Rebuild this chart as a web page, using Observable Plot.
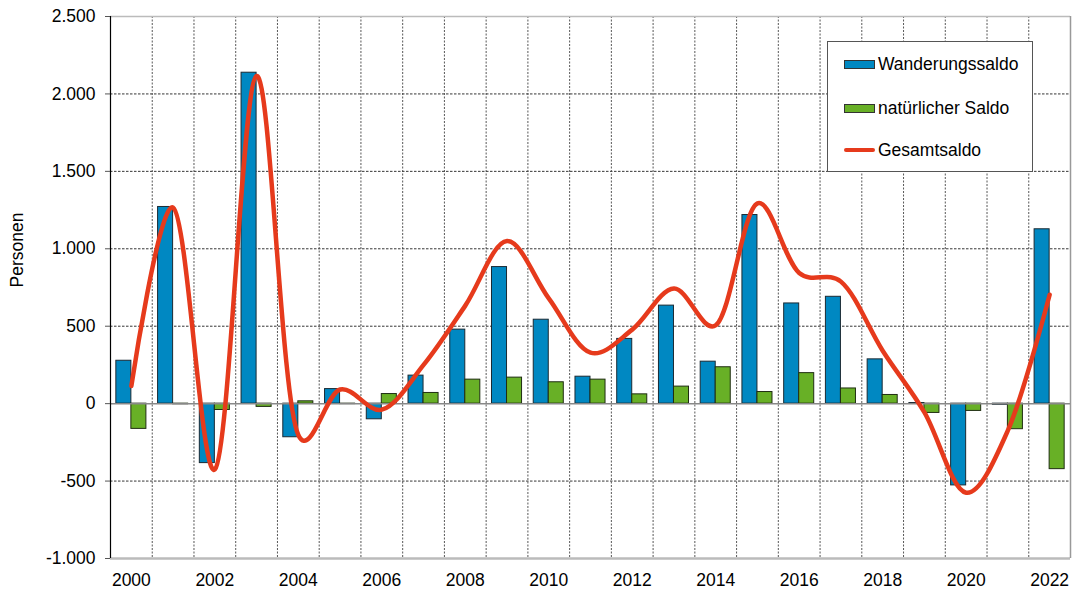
<!DOCTYPE html>
<html>
<head>
<meta charset="utf-8">
<script src="https://cdn.jsdelivr.net/npm/d3@7"></script>
<script src="https://cdn.jsdelivr.net/npm/@observablehq/plot@0.6"></script>
<style>
  html, body { margin: 0; padding: 0; background: #fff; }
  #wrap { position: relative; width: 1076px; height: 590px; font-family: "Liberation Sans", Arial, sans-serif; }
  #legend { position: absolute; left: 827px; top: 41px; width: 204px; height: 129px; border: 1.5px solid #555; background: #fff; }
  .row { position: absolute; left: 0; width: 100%; height: 20px; }
  .sw { position: absolute; left: 16px; top: 6px; width: 29px; height: 7px; border: 1px solid #333; }
  .ln { position: absolute; left: 16px; top: 8px; width: 31px; height: 4px; border-radius: 2px; }
  .lab { position: absolute; left: 50px; top: 0; font-size: 17.5px; line-height: 20px; color: #000; white-space: nowrap; }
</style>
</head>
<body>
<div id="wrap"></div>
<script>
const years = d3.range(2000, 2023);
const wanderung = [277, 1270, -384, 2137, -217, 94, -101, 181, 478, 882, 542, 174, 418, 633, 271, 1218, 647, 690, 286, 4, -528, -8, 1126];
const natuerlich = [-163, -4, -41, -21, 15, -3, 62, 69, 155, 168, 138, 155, 60, 110, 235, 75, 197, 98, 56, -60, -47, -165, -423];
const gesamt = [114, 1266, -425, 2116, -202, 91, -39, 250, 633, 1050, 680, 329, 478, 743, 506, 1293, 844, 788, 342, -56, -575, -173, 703];
const yTicks = [-1000, -500, 0, 500, 1000, 1500, 2000, 2500];
const xLabels = [2000, 2002, 2004, 2006, 2008, 2010, 2012, 2014, 2016, 2018, 2020, 2022];
const seriesNames = ["Wanderungssaldo", "natürlicher Saldo", "Gesamtsaldo"];
const colors = ["#0088c2", "#68b026", "#e63a1c"];

const data = years.map((year, i) => ({year, w: wanderung[i], n: natuerlich[i], g: gesamt[i]}));
const boundaries = years.slice(0, -1).map(y => y + 0.5);
const half = 0.36;

const de = d3.formatLocale({decimal: ",", thousands: ".", grouping: [3], currency: ["", " €"], minus: "-"});
const fmt = de.format(",d");

const chart = Plot.plot({
  width: 1076,
  height: 590,
  marginLeft: 110,
  marginRight: 6,
  marginTop: 16,
  marginBottom: 32,
  style: {fontFamily: "'Liberation Sans', Arial, sans-serif", fontSize: "17px", color: "#000", background: "#fff"},
  x: {domain: [1999.5, 2022.5], axis: null},
  y: {domain: [-1000, 2500], axis: null},
  marks: [
    Plot.ruleY(yTicks.filter(v => v !== 0 && v !== 2500 && v !== -1000), {stroke: "#000", strokeWidth: 0.8, strokeDasharray: "2.5,1.5"}),
    Plot.ruleX(boundaries, {stroke: "#444", strokeWidth: 0.9, strokeDasharray: "2,1.5"}),
    Plot.ruleY([2500], {stroke: "#bbb", strokeWidth: 1.5}),
    Plot.rect(data, {x1: d => d.year - half, x2: d => d.year, y1: 0, y2: "w", fill: colors[0], stroke: "#1b2a33", strokeWidth: 1}),
    Plot.rect(data, {x1: d => d.year, x2: d => d.year + half, y1: 0, y2: "n", fill: colors[1], stroke: "#1f2d12", strokeWidth: 1}),
    Plot.ruleY([0], {stroke: "#888", strokeWidth: 1.5}),
    Plot.ruleY([-1000], {stroke: "#bbb", strokeWidth: 2.5}),
    Plot.ruleX([2022.5], {stroke: "#999", strokeWidth: 1.5}),
    Plot.ruleX([1999.5], {stroke: "#000", strokeWidth: 1.2}),
    Plot.line(data, {x: "year", y: "g", stroke: colors[2], strokeWidth: 4.5, curve: d3.curveCatmullRom.alpha(0.2), strokeLinecap: "round", strokeLinejoin: "round"}),
    Plot.axisY({ticks: yTicks, tickFormat: fmt, tickSize: 5, tickPadding: 10, fontSize: 17.5, stroke: "#555", label: null}),
    Plot.axisX({ticks: xLabels, tickFormat: "d", tickSize: 0, tickPadding: 15, fontSize: 17.5, label: null}),
    Plot.text(["Personen"], {frameAnchor: "left", dx: -93, rotate: -90, fontSize: 17.5, fill: "#000"})
  ]
});

const wrap = document.getElementById("wrap");
wrap.appendChild(chart);

const legend = document.createElement("div");
legend.id = "legend";
const tops = [12, 56, 98];
seriesNames.forEach((name, i) => {
  const row = document.createElement("div");
  row.className = "row";
  row.style.top = tops[i] + "px";
  const sw = document.createElement("div");
  if (i < 2) { sw.className = "sw"; sw.style.background = colors[i]; }
  else { sw.className = "ln"; sw.style.background = colors[i]; }
  const lab = document.createElement("div");
  lab.className = "lab";
  lab.textContent = name;
  row.appendChild(sw);
  row.appendChild(lab);
  legend.appendChild(row);
});
wrap.appendChild(legend);
</script>
</body>
</html>
